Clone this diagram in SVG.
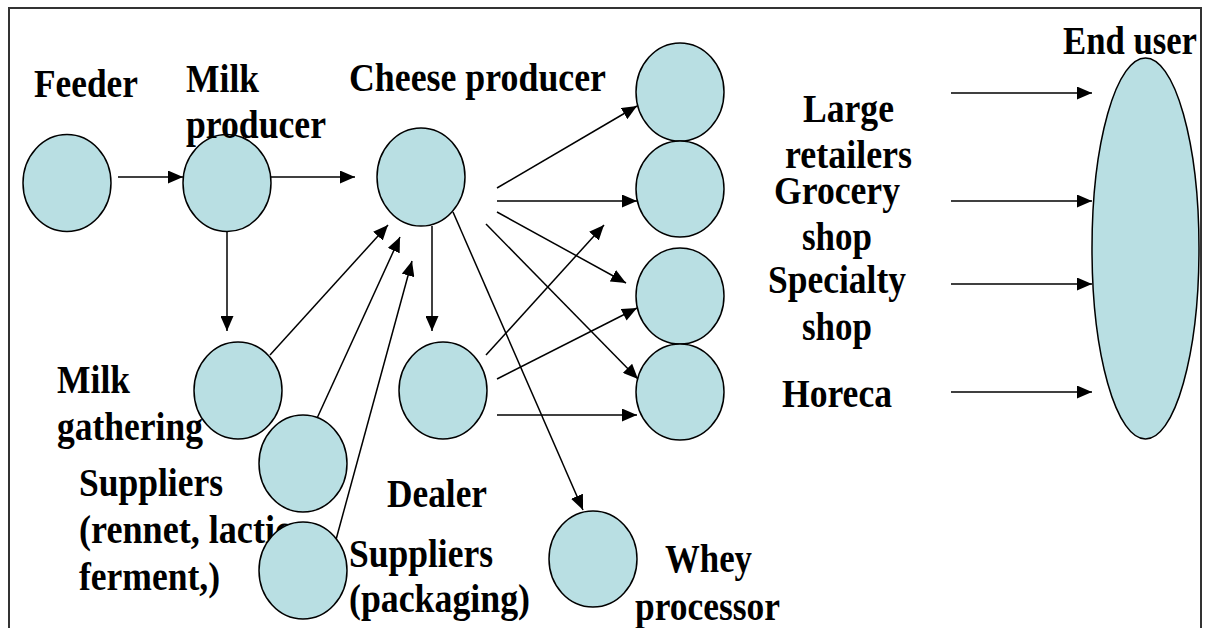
<svg xmlns="http://www.w3.org/2000/svg" width="1206" height="628" viewBox="0 0 1206 628">
<defs>
<marker id="ah" markerUnits="userSpaceOnUse" markerWidth="15" markerHeight="13" refX="15" refY="6.5" orient="auto">
<path d="M0,0 L15,6.5 L0,13 z" fill="#000"/>
</marker>
<style>
.n{fill:#b9dfe3;stroke:#000;stroke-width:1.5}
.c{stroke:#000;stroke-width:1.5;fill:none;marker-end:url(#ah)}
.t{font-family:"Liberation Serif","Times New Roman",serif;font-weight:bold;font-size:39px;fill:#000}
</style>
</defs>
<rect width="1206" height="628" fill="#fff"/>
<path d="M9,632 V8 H1201 V632" fill="none" stroke="#333" stroke-width="2"/>
<g id="label-suppliers-rennet">
<text class="t" x="79" y="496" textLength="144" lengthAdjust="spacingAndGlyphs">Suppliers</text>
<text class="t" x="79" y="543" textLength="212" lengthAdjust="spacingAndGlyphs">(rennet, lactic</text>
<text class="t" x="79" y="590" textLength="141" lengthAdjust="spacingAndGlyphs">ferment,)</text>
</g>
<g id="connectors">
<line class="c" x1="118" y1="177" x2="183" y2="177"/>
<line class="c" x1="271" y1="177" x2="355" y2="177"/>
<line class="c" x1="227" y1="230" x2="227" y2="331"/>
<line class="c" x1="270" y1="355" x2="388" y2="225"/>
<line class="c" x1="313" y1="427" x2="400" y2="237"/>
<line class="c" x1="334" y1="547" x2="412" y2="261"/>
<line class="c" x1="432" y1="226" x2="432" y2="331"/>
<line class="c" x1="453" y1="212" x2="583" y2="510"/>
<line class="c" x1="497" y1="188" x2="637" y2="106"/>
<line class="c" x1="497" y1="201" x2="637" y2="201"/>
<line class="c" x1="497" y1="212" x2="626" y2="283"/>
<line class="c" x1="486" y1="224" x2="638" y2="379"/>
<line class="c" x1="486" y1="355" x2="604" y2="225"/>
<line class="c" x1="497" y1="379" x2="637" y2="308"/>
<line class="c" x1="497" y1="415" x2="637" y2="415"/>
<line class="c" x1="951" y1="93" x2="1092" y2="93"/>
<line class="c" x1="951" y1="201" x2="1092" y2="201"/>
<line class="c" x1="951" y1="284" x2="1092" y2="284"/>
<line class="c" x1="951" y1="392" x2="1092" y2="392"/>
</g>
<g id="feeder"><ellipse class="n" cx="67" cy="183" rx="44" ry="48.5"/>
<text class="t" x="34" y="97" textLength="104" lengthAdjust="spacingAndGlyphs">Feeder</text></g>
<g id="milk-producer"><ellipse class="n" cx="227" cy="183" rx="44" ry="48.5"/>
<text class="t" x="186" y="92" textLength="73" lengthAdjust="spacingAndGlyphs">Milk</text>
<text class="t" x="186" y="138" textLength="140" lengthAdjust="spacingAndGlyphs">producer</text></g>
<g id="cheese-producer"><ellipse class="n" cx="421" cy="177" rx="44" ry="49"/>
<text class="t" x="349" y="91" textLength="257" lengthAdjust="spacingAndGlyphs">Cheese producer</text></g>
<g id="large-retailers"><ellipse class="n" cx="680" cy="92" rx="44" ry="49"/></g>
<g id="grocery-shop"><ellipse class="n" cx="680" cy="189" rx="44" ry="48"/></g>
<g id="specialty-shop"><ellipse class="n" cx="680" cy="296" rx="44" ry="48"/></g>
<g id="horeca"><ellipse class="n" cx="680" cy="392" rx="44" ry="48"/></g>
<g id="milk-gathering"><ellipse class="n" cx="238" cy="390.5" rx="44" ry="48.5"/>
<text class="t" x="57" y="393" textLength="73" lengthAdjust="spacingAndGlyphs">Milk</text>
<text class="t" x="57" y="440" textLength="146" lengthAdjust="spacingAndGlyphs">gathering</text></g>
<g id="suppliers-1"><ellipse class="n" cx="303" cy="463.5" rx="44" ry="48.5"/></g>
<g id="suppliers-2"><ellipse class="n" cx="303" cy="570.5" rx="44" ry="48.5"/></g>
<g id="dealer"><ellipse class="n" cx="443" cy="390.5" rx="44" ry="48.5"/>
<text class="t" x="387" y="507" textLength="100" lengthAdjust="spacingAndGlyphs">Dealer</text></g>
<g id="suppliers-packaging">
<text class="t" x="349" y="567" textLength="144" lengthAdjust="spacingAndGlyphs">Suppliers</text>
<text class="t" x="349" y="612" textLength="181" lengthAdjust="spacingAndGlyphs">(packaging)</text></g>
<g id="whey-processor"><ellipse class="n" cx="593" cy="559" rx="44" ry="48"/>
<text class="t" x="665" y="572" textLength="87" lengthAdjust="spacingAndGlyphs">Whey</text>
<text class="t" x="635" y="620" textLength="145" lengthAdjust="spacingAndGlyphs">processor</text></g>
<g id="end-user"><ellipse class="n" cx="1145.5" cy="248.5" rx="53.5" ry="190.5"/>
<text class="t" x="1063" y="54" textLength="134" lengthAdjust="spacingAndGlyphs">End user</text></g>
<g id="channel-labels">
<text class="t" x="803" y="122" textLength="91" lengthAdjust="spacingAndGlyphs">Large</text>
<text class="t" x="785" y="168" textLength="127" lengthAdjust="spacingAndGlyphs">retailers</text>
<text class="t" x="774" y="204" textLength="126" lengthAdjust="spacingAndGlyphs">Grocery</text>
<text class="t" x="802" y="250" textLength="70" lengthAdjust="spacingAndGlyphs">shop</text>
<text class="t" x="768" y="293" textLength="138" lengthAdjust="spacingAndGlyphs">Specialty</text>
<text class="t" x="802" y="340" textLength="70" lengthAdjust="spacingAndGlyphs">shop</text>
<text class="t" x="782" y="407" textLength="110" lengthAdjust="spacingAndGlyphs">Horeca</text>
</g>
</svg>
